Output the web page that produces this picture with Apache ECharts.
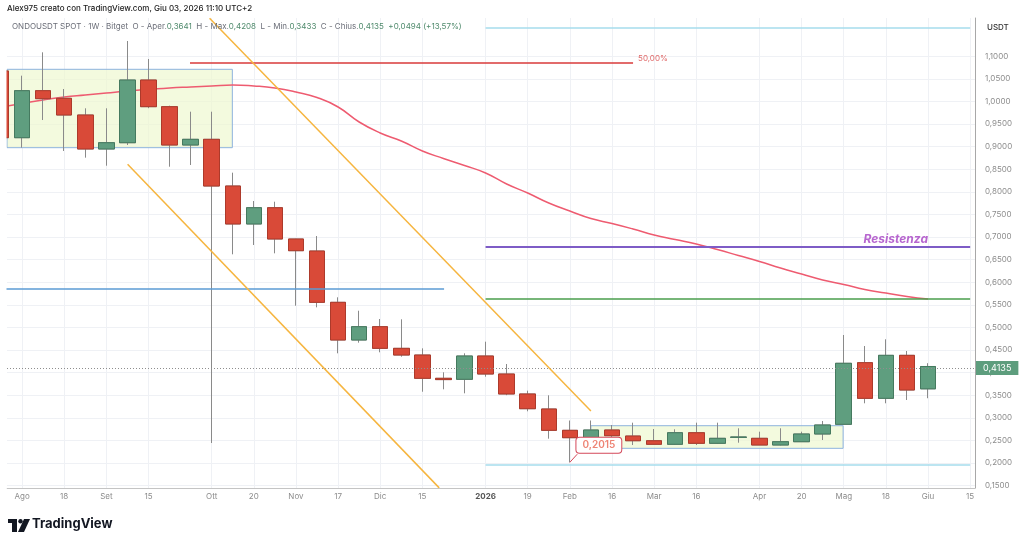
<!DOCTYPE html>
<html><head><meta charset="utf-8">
<script src="https://cdn.jsdelivr.net/npm/echarts@6/dist/echarts.min.js"></script>
<style>html,body{margin:0;padding:0;background:#fff}#c{width:1024px;height:546px}</style>
</head><body><div id="c"></div>
<script>
// ---- weekly categories (Monday of each week) ----
const weeks = ['2025-07-28','2025-08-04','2025-08-11','2025-08-18','2025-08-25','2025-09-01','2025-09-08','2025-09-15','2025-09-22','2025-09-29',
  '2025-10-06','2025-10-13','2025-10-20','2025-10-27','2025-11-03','2025-11-10','2025-11-17','2025-11-24','2025-12-01','2025-12-08',
  '2025-12-15','2025-12-22','2025-12-29','2026-01-05','2026-01-12','2026-01-19','2026-01-26','2026-02-02','2026-02-09','2026-02-16',
  '2026-02-23','2026-03-02','2026-03-09','2026-03-16','2026-03-23','2026-03-30','2026-04-06','2026-04-13','2026-04-20','2026-04-27',
  '2026-05-04','2026-05-11','2026-05-18','2026-05-25','2026-06-01','2026-06-08','2026-06-15'];

// ---- OHLC (USDT) ----
const opens  = [1.0673,0.9197,1.0237,1.0068,0.9699,0.8947,0.9086,1.0473,0.9883,0.9035,
  0.9161,0.8128,0.7288,0.7648,0.6956,0.6690,0.5555,0.4721,0.5016,0.4537,
  0.4389,0.3874,0.3852,0.4367,0.3969,0.3527,0.3195,0.2723,0.2560,0.2730,
  0.2597,0.2493,0.2414,0.2670,0.2436,0.2568,0.2546,0.2398,0.2471,0.2642,
  0.2856,0.4219,0.3431,0.4382,0.3641];
const closes = [0.9197,1.0237,1.0060,0.9699,0.8947,0.9086,1.0473,0.9883,0.9035,0.9161,
  0.8128,0.7288,0.7648,0.6956,0.6697,0.5555,0.4721,0.5016,0.4537,0.4389,
  0.3874,0.3845,0.4367,0.3969,0.3527,0.3201,0.2723,0.2560,0.2730,0.2604,
  0.2493,0.2414,0.2670,0.2436,0.2546,0.2575,0.2398,0.2471,0.2642,0.2841,
  0.4206,0.3431,0.4382,0.3615,0.4135];
const lows   = [0.9100,0.8976,0.9588,0.8903,0.8755,0.8577,0.9035,0.9850,0.8555,0.8593,
  0.2442,0.6617,0.6823,0.6639,0.5480,0.5444,0.4427,0.4662,0.4449,0.4352,
  0.3577,0.3630,0.3542,0.3909,0.3500,0.3144,0.2538,0.2015,0.2450,0.2509,
  0.2398,0.2405,0.2400,0.2398,0.2420,0.2449,0.2398,0.2390,0.2470,0.2509,
  0.2850,0.3321,0.3321,0.3394,0.3433];
const highs  = [1.0800,1.0569,1.1086,1.0274,0.9847,0.9847,1.1336,1.0938,0.9905,0.9772,
  0.9772,0.8423,0.7796,0.7781,0.6960,0.7022,0.5666,0.5369,0.5186,0.5179,
  0.4537,0.4007,0.4427,0.4684,0.4190,0.3600,0.3498,0.2940,0.2940,0.2841,
  0.2892,0.2752,0.2746,0.2892,0.2892,0.2768,0.2693,0.2768,0.2693,0.2929,
  0.4832,0.4588,0.4737,0.4478,0.4208];

// ---- moving average ----
const maValues = [0.9876,0.9954,1.0031,1.0097,1.0142,1.0186,1.0230,1.0263,1.0296,1.0319,
  1.0341,1.0363,1.0341,1.0296,1.0208,1.0086,0.9876,0.9544,0.9301,0.9124,
  0.8903,0.8737,0.8582,0.8416,0.8173,0.7973,0.7752,0.7575,0.7409,0.7299,
  0.7177,0.7044,0.6945,0.6845,0.6723,0.6591,0.6458,0.6314,0.6181,0.6049,
  0.5949,0.5838,0.5761,0.5684,0.5628];

// ---- axis ticks ----
const tickWeeks  = ['2025-08-04','2025-08-18','2025-09-01','2025-09-15','2025-10-06','2025-10-20','2025-11-03','2025-11-17','2025-12-01','2025-12-15',
  '2026-01-05','2026-01-19','2026-02-02','2026-02-16','2026-03-02','2026-03-16','2026-04-06','2026-04-20','2026-05-04','2026-05-18','2026-06-01','2026-06-15'];
const tickLabels = ['Ago','18','Set','15','Ott','20','Nov','17','Dic','15','2026','19','Feb','16','Mar','16','Apr','20','Mag','18','Giu','15'];
const priceTicks = [0.15,0.20,0.25,0.30,0.35,0.40,0.45,0.50,0.55,0.60,0.65,0.70,0.75,0.80,0.85,0.90,0.95,1.00,1.05,1.10];

// ---- drawings (week index, price) ----
const fibLevel   = {price: 1.0865, from: 8.97, to: 30.0, text: '50,00%'};
const blueLevel  = {price: 0.5850, from: 0.0, to: 21.03};
const resistance = {price: 0.6786, from: 23, to: 46, text: 'Resistenza', textAt: 44.0};
const greenLevel = {price: 0.5644, from: 23, to: 46};
const cyanTop    = {price: 1.1624, from: 23, to: 46};
const cyanBottom = {price: 0.1956, from: 23, to: 46};
const channelUpper = [[9.9, 1.1840], [28.0, 0.3150]];
const channelLower = [[6.01, 0.8608], [20.8, 0.1450]];
const boxes = [[[0.0, 1.0710], [10.98, 0.8976]], [[28.0, 0.2825], [39.97, 0.2325]]];
const lowCallout = {week: 27, price: 0.2015, text: '0,2015', tip: [27.35, 0.2195]};
const lastPrice = 0.4135;

const fmt = v => v.toFixed(4).replace('.', ',');
const tickIdx = tickWeeks.map(w => weeks.indexOf(w));
const candleData = opens.map((o, i) => [i, o, closes[i], lows[i], highs[i]]);
const bodyData = opens.map((o, i) => [i, o, closes[i], Math.min(o, closes[i]), Math.max(o, closes[i])]);
const maData = maValues.map((v, i) => [i, v]);
const hl = (lv) => [[lv.from, lv.price], [lv.to, lv.price]];

const FONT = 'Inter, Roboto, sans-serif';
const chart = echarts.init(document.getElementById('c'));
chart.setOption({
  animation: false,
  backgroundColor: '#ffffff',
  grid: {left: 7, right: 49, top: 18, bottom: 58, outerBoundsMode: 'none', containLabel: false},
  xAxis: {
    type: 'value', min: 0.285, max: 46.23,
    axisLine: {show: true, lineStyle: {color: '#c4c4c4'}},
    axisTick: {show: false, customValues: tickIdx},
    axisLabel: {
      customValues: tickIdx, margin: 5, color: '#8c8c8c', fontSize: 8, fontFamily: FONT,
      formatter: v => { const t = tickLabels[tickIdx.indexOf(Math.round(v))] || ''; return t === '2026' ? '{b|2026}' : t; },
      rich: {b: {fontWeight: 'bold', color: '#555', fontSize: 8, fontFamily: FONT}}
    },
    splitLine: {show: true, lineStyle: {color: '#eff1f5', width: 1}}
  },
  yAxis: {
    type: 'value', position: 'right', min: 0.1447, max: 1.1845, scale: true,
    axisLine: {show: true, lineStyle: {color: '#a8a8a8'}},
    axisTick: {show: false, customValues: priceTicks},
    axisLabel: {customValues: priceTicks, formatter: fmt, color: '#8c8c8c', fontSize: 8, fontFamily: FONT, margin: 10},
    splitLine: {show: true, lineStyle: {color: '#eff1f5', width: 1}}
  },
  series: [
    { // boxes + MA
      type: 'line', name: 'MA', data: maData, z: 2, smooth: true, symbol: 'none', silent: true,
      lineStyle: {color: '#ee5b70', width: 1.5},
      markArea: {
        silent: true,
        itemStyle: {color: 'rgba(236,248,205,0.65)', borderColor: '#8db3de', borderWidth: 1},
        data: boxes.map(b => [{coord: b[0]}, {coord: b[1]}])
      }
    },
    { // wicks (grey)
      type: 'candlestick', data: candleData, z: 3, barWidth: 16, silent: true, clip: true,
      encode: {x: 0, y: [1, 2, 3, 4]},
      itemStyle: {color: '#8a8a8a', color0: '#8a8a8a', borderColor: '#8a8a8a', borderColor0: '#8a8a8a', borderWidth: 1}
    },
    { // bodies
      type: 'candlestick', data: bodyData, z: 4, barWidth: 16, silent: true, clip: true,
      encode: {x: 0, y: [1, 2, 3, 4]},
      itemStyle: {color: '#5f9e7f', color0: '#d94a38', borderColor: '#457a5f', borderColor0: '#ad3a2b', borderWidth: 1},
      markLine: {
        silent: true, symbol: 'none',
        data: [{yAxis: lastPrice}],
        lineStyle: {type: [1, 2], color: '#8e8e8e', width: 1},
        label: {position: 'end', distance: 1, formatter: fmt(lastPrice), backgroundColor: '#5d9d7d', color: '#fff',
          padding: [3, 7, 2, 7], fontSize: 9, fontFamily: FONT}
      }
    },
    { // drawings
      type: 'lines', coordinateSystem: 'cartesian2d', z: 5, silent: true, polyline: false,
      lineStyle: {width: 1.5, opacity: 1},
      data: [
        {coords: hl(fibLevel), lineStyle: {color: '#d83a3a', width: 1.5},
          label: {show: true, position: 'end', formatter: fibLevel.text, color: '#e06a6a', fontSize: 8, fontFamily: FONT, distance: 5, offset: [0, -4]}},
        {coords: hl(blueLevel), lineStyle: {color: '#5b9bd5', width: 1.5}},
        {coords: hl(resistance), lineStyle: {color: '#7e5cc6', width: 2}},
        {coords: hl(greenLevel), lineStyle: {color: '#4a9e4c', width: 1.5}},
        {coords: hl(cyanTop), lineStyle: {color: '#a6dced', width: 1.5}},
        {coords: hl(cyanBottom), lineStyle: {color: '#a6dced', width: 1.5}},
        {coords: channelUpper, lineStyle: {color: '#f6b53f', width: 1.5}},
        {coords: channelLower, lineStyle: {color: '#f6b53f', width: 1.5}},
        {coords: [[lowCallout.week, lowCallout.price], lowCallout.tip], lineStyle: {color: '#d4485a', width: 1}}
      ],
      markPoint: {
        silent: true, symbol: 'circle', symbolSize: 0,
        data: [
          {coord: [lowCallout.week, lowCallout.price],
            label: {show: true, position: 'inside', offset: [29, -17], formatter: lowCallout.text, color: '#ee8474',
              fontSize: 10, fontWeight: 600, fontFamily: FONT, backgroundColor: '#fff', borderColor: '#d4485a', borderWidth: 1,
              borderRadius: 3, padding: [3, 6, 2, 6]}},
          {coord: [resistance.textAt, resistance.price],
            label: {show: true, position: 'inside', align: 'right', verticalAlign: 'bottom', offset: [0, -1],
              formatter: resistance.text, color: '#b766cf', fontSize: 12, fontStyle: 'italic', fontWeight: 'bold', fontFamily: FONT}}
        ]
      }
    }
  ],
  graphic: [
    // mask the part of the first candle that lies left of the plot area
    {type: 'rect', left: 0, top: 17, z: 50, shape: {width: 6.5, height: 472}, style: {fill: '#ffffff'}},
    {type: 'text', left: 7, top: 5, z: 100, style: {text: 'Alex975 creato con TradingView.com, Giu 03, 2026 11:10 UTC+2',
      font: '500 8px Inter, Roboto, sans-serif', fill: '#222'}},
    {type: 'text', left: 12, top: 23, z: 100, style: {
      text: '{g|ONDOUSDT SPOT · 1W · Bitget  O - Aper.}{v|0,3641}{g|  H - Max.}{v|0,4208}{g|  L - Min.}{v|0,3433}{g|  C - Chius.}{v|0,4135}{v|  +0,0494 (+13,57%)}',
      rich: {g: {fill: '#6b6e78', font: '8px Inter, Roboto, sans-serif'}, v: {fill: '#4f8a6c', font: '8px Inter, Roboto, sans-serif'}}}},
    {type: 'text', left: 987, top: 24, z: 100, style: {text: 'USDT', font: '500 8px Inter, Roboto, sans-serif', fill: '#333'}},
    // TradingView logo
    {type: 'group', left: 8, top: 519, z: 100, children: [
      {type: 'rect', shape: {x: 0, y: 0, width: 9, height: 4}, style: {fill: '#131722'}},
      {type: 'rect', shape: {x: 4, y: 0, width: 5, height: 13}, style: {fill: '#131722'}},
      {type: 'circle', shape: {cx: 12.5, cy: 2.2, r: 2.2}, style: {fill: '#131722'}},
      {type: 'polygon', shape: {points: [[16, 0], [22, 0], [16, 13], [10, 13]]}, style: {fill: '#131722'}}
    ]},
    {type: 'text', left: 32, top: 518, z: 100, style: {text: 'TradingView', font: 'bold 13px Inter, Roboto, sans-serif', fill: '#131722'}}
  ]
});
</script></body></html>
